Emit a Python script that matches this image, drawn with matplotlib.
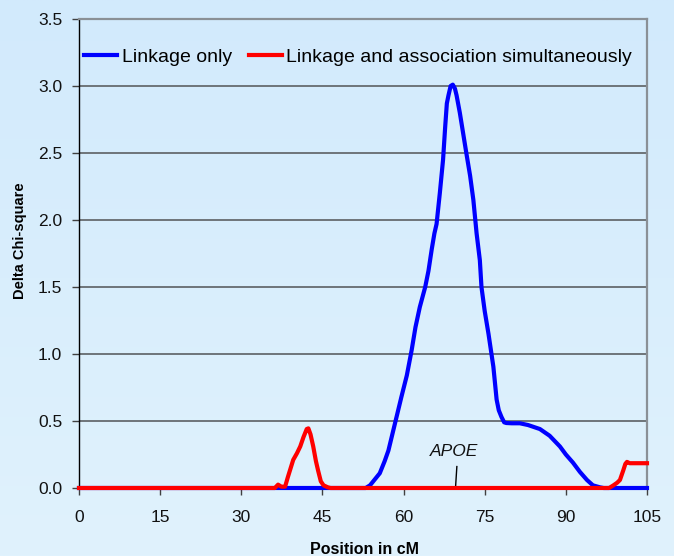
import numpy as np
import matplotlib
matplotlib.use("Agg")
import matplotlib.pyplot as plt

plt.rcParams['font.family'] = ['Liberation Sans', 'DejaVu Sans']

# ---- data ----
blue_x = [0, 53.0, 53.8, 54.6, 55.6, 56.5, 57.2, 58.4, 59.6, 60.6, 61.5, 62.2, 63.0, 64.0,
          64.6, 65.2, 65.7, 66.1, 66.7, 67.3, 67.7, 68.0, 68.3, 68.7, 69.1, 69.5, 69.8,
          70.4, 71.0, 71.6, 72.3, 72.9, 73.5, 74.1, 74.4, 75.0, 75.7, 76.6, 77.2, 77.6,
          78.1, 78.6, 79.0, 80.0, 81.5, 83.0, 85.2, 87.0, 88.9, 90.0, 91.3, 92.6, 93.9,
          95.0, 96.3, 97.0, 105]
blue_y = [0, 0, 0.02, 0.06, 0.11, 0.20, 0.28, 0.48, 0.68, 0.84, 1.03, 1.20, 1.35, 1.50,
          1.62, 1.78, 1.90, 1.97, 2.20, 2.45, 2.70, 2.87, 2.93, 3.00, 3.01, 2.98, 2.93,
          2.80, 2.65, 2.50, 2.33, 2.15, 1.90, 1.70, 1.50, 1.32, 1.15, 0.905, 0.66, 0.58,
          0.53, 0.49, 0.485, 0.483, 0.483, 0.47, 0.44, 0.39, 0.31, 0.25, 0.19, 0.12, 0.06,
          0.02, 0.005, 0, 0]

red_x = [0, 36.2, 36.8, 37.4, 38.1, 38.6, 39.6, 40.3, 40.9, 41.5, 42.1, 42.4, 42.8, 43.3,
         43.8, 44.2, 44.7, 45.2, 46.0, 46.5, 98.0, 98.8, 99.5, 100.0, 100.6, 101.0, 101.3,
         101.8, 105]
red_y = [0, 0, 0.025, 0.01, 0.01, 0.08, 0.21, 0.26, 0.31, 0.38, 0.44, 0.445, 0.40, 0.31,
         0.20, 0.13, 0.05, 0.02, 0.005, 0, 0, 0.02, 0.04, 0.06, 0.13, 0.18, 0.195,
         0.185, 0.185]

labels = ["Linkage only", "Linkage and association simultaneously"]
x_ticks = [0, 15, 30, 45, 60, 75, 90, 105]
y_ticks = [0.0, 0.5, 1.0, 1.5, 2.0, 2.5, 3.0, 3.5]
apoe_pos = 69.6

W, H = 674, 556
fig = plt.figure(figsize=(W / 100, H / 100), dpi=100)

# background gradient
bg = fig.add_axes([0, 0, 1, 1], zorder=-10)
top = np.array([210, 234, 252]) / 255
bot = np.array([224, 242, 253]) / 255
t = np.linspace(0, 1, 256)[:, None, None]
grad = top * (1 - t) + bot * t
grad = np.repeat(grad, 2, axis=1)
bg.imshow(grad, aspect='auto', extent=[0, 1, 0, 1])
bg.axis('off')

ax = fig.add_axes([79 / W, 1 - 488 / H, (647 - 79) / W, (488 - 19) / H])
ax.patch.set_alpha(0)

ax.set_xlim(0, 105)
ax.set_ylim(0, 3.5)
ax.set_xticks(x_ticks)
ax.set_xticklabels([str(v) for v in x_ticks])
ax.set_yticks(y_ticks)
ax.set_yticklabels([f"{v:.1f}" for v in y_ticks])

for yv in y_ticks[1:-1]:
    ax.axhline(yv, color='#6e7479', lw=1.4, zorder=1)

ax.spines['top'].set_color('#8a9096')
ax.spines['top'].set_linewidth(1.6)
ax.spines['right'].set_color('#8a9096')
ax.spines['right'].set_linewidth(1.6)
ax.spines['left'].set_color('black')
ax.spines['left'].set_linewidth(1.0)
ax.spines['bottom'].set_color('black')
ax.spines['bottom'].set_linewidth(1.0)

ax.tick_params(axis='both', direction='out', length=5, width=1.0, color='#404040',
               labelsize=12.5, labelcolor='#111111')
ax.tick_params(axis='y', pad=7)
ax.tick_params(axis='x', pad=11)

l1, = ax.plot(blue_x, blue_y, color='#0000ff', lw=3.0, zorder=3, solid_joinstyle='round',
              clip_on=False)
l2, = ax.plot(red_x, red_y, color='#ff0000', lw=3.0, zorder=4, solid_joinstyle='round',
              clip_on=False)

# APOE marker
ax.plot([apoe_pos, apoe_pos + 0.25], [0, 0.16], color='black', lw=1.0, zorder=2)
ax.text(apoe_pos - 0.3, 0.272, "APOE", style='italic', fontsize=12.5, ha='center',
        va='center', color='#111111')

fig.legend([l1, l2], labels, loc='center left', bbox_to_anchor=(84 / W, 1 - 56.7 / H),
           ncol=2, frameon=False, fontsize=14, handlelength=1.7, handletextpad=0.25,
           columnspacing=0.85, borderpad=0, borderaxespad=0)

fig.text(364 / W, 1.5 / H, "Position in cM", fontsize=11.5, fontweight='bold',
         ha='center', va='baseline')
fig.text(20 / W, 1 - 241 / H, "Delta Chi-square", fontsize=10.5, fontweight='bold',
         ha='center', va='center', rotation=90)

fig.savefig("out.png", dpi=100)
